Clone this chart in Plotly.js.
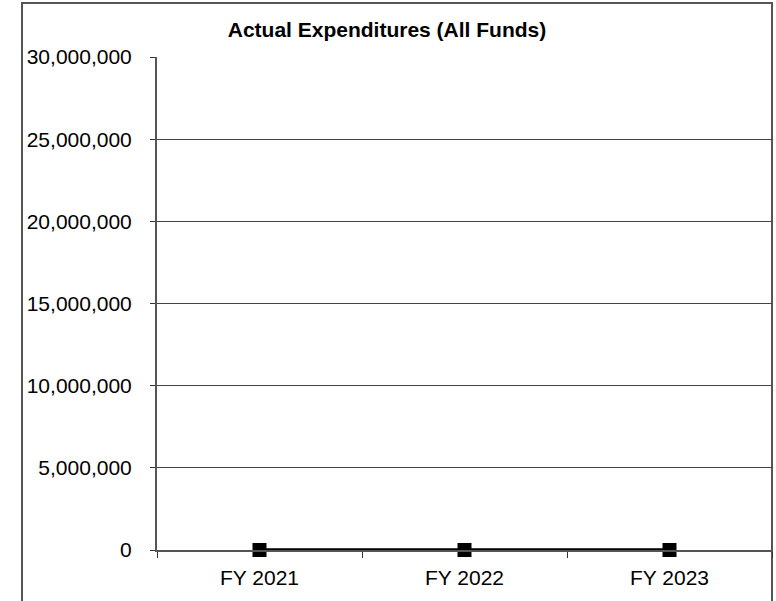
<!DOCTYPE html>
<html>
<head>
<meta charset="utf-8">
<script src="https://cdn.plot.ly/plotly-3.0.1.min.js"></script>
<style>html,body{margin:0;padding:0;background:#fff;}#chart{width:776px;height:601px;}</style>
</head>
<body>
<div id="chart"></div>
<script>
var categories = ["FY 2021", "FY 2022", "FY 2023"];
var expenditures = [0, 0, 0];
var yTickValues = [0, 5000000, 10000000, 15000000, 20000000, 25000000, 30000000];
var yTickLabels = ["0", "5,000,000", "10,000,000", "15,000,000", "20,000,000", "25,000,000", "30,000,000"];

var trace = {
  x: categories,
  y: expenditures,
  type: "scatter",
  mode: "lines+markers",
  line: {color: "#000000", width: 3.5},
  marker: {symbol: "square", size: 14, color: "#000000"},
  cliponaxis: false,
  hoverinfo: "x+y"
};

var font = "Liberation Sans, Arial, sans-serif";
var layout = {
  width: 776,
  height: 601,
  margin: {l: 157, r: 4, t: 57, b: 51},
  paper_bgcolor: "#ffffff",
  plot_bgcolor: "#ffffff",
  showlegend: false,
  title: {
    text: "<b>Actual Expenditures (All Funds)</b>",
    font: {family: font, size: 21, color: "#000000"},
    x: 387 / 776, xref: "container", xanchor: "center",
    y: 1 - 30 / 601, yref: "container", yanchor: "middle"
  },
  xaxis: {
    type: "category",
    range: [-0.5, 2.5],
    tickson: "boundaries",
    ticks: "outside",
    ticklen: 6,
    tickcolor: "#333333",
    tickwidth: 1,
    showline: true,
    linecolor: "#555555",
    linewidth: 2,
    showgrid: false,
    zeroline: false,
    tickfont: {family: font, size: 21, color: "#000000"},
    ticklabelstandoff: 8
  },
  yaxis: {
    range: [0, 30000000],
    tickvals: yTickValues,
    ticktext: yTickLabels,
    ticks: "outside",
    ticklen: 5,
    tickcolor: "#333333",
    showline: true,
    linecolor: "#555555",
    linewidth: 2,
    showgrid: true,
    gridcolor: "#444444",
    gridwidth: 1,
    zeroline: false,
    tickfont: {family: font, size: 21, color: "#000000"},
    ticklabelstandoff: 14
  },
  shapes: [{
    type: "rect",
    xref: "paper", yref: "paper",
    x0: (22 - 157) / 615, x1: 1,
    y0: -0.3, y1: 1 + (57 - 3) / 493,
    line: {color: "#555555", width: 2},
    fillcolor: "rgba(0,0,0,0)",
    layer: "below"
  }]
};

Plotly.newPlot("chart", [trace], layout, {displayModeBar: false, staticPlot: true});
</script>
</body>
</html>
